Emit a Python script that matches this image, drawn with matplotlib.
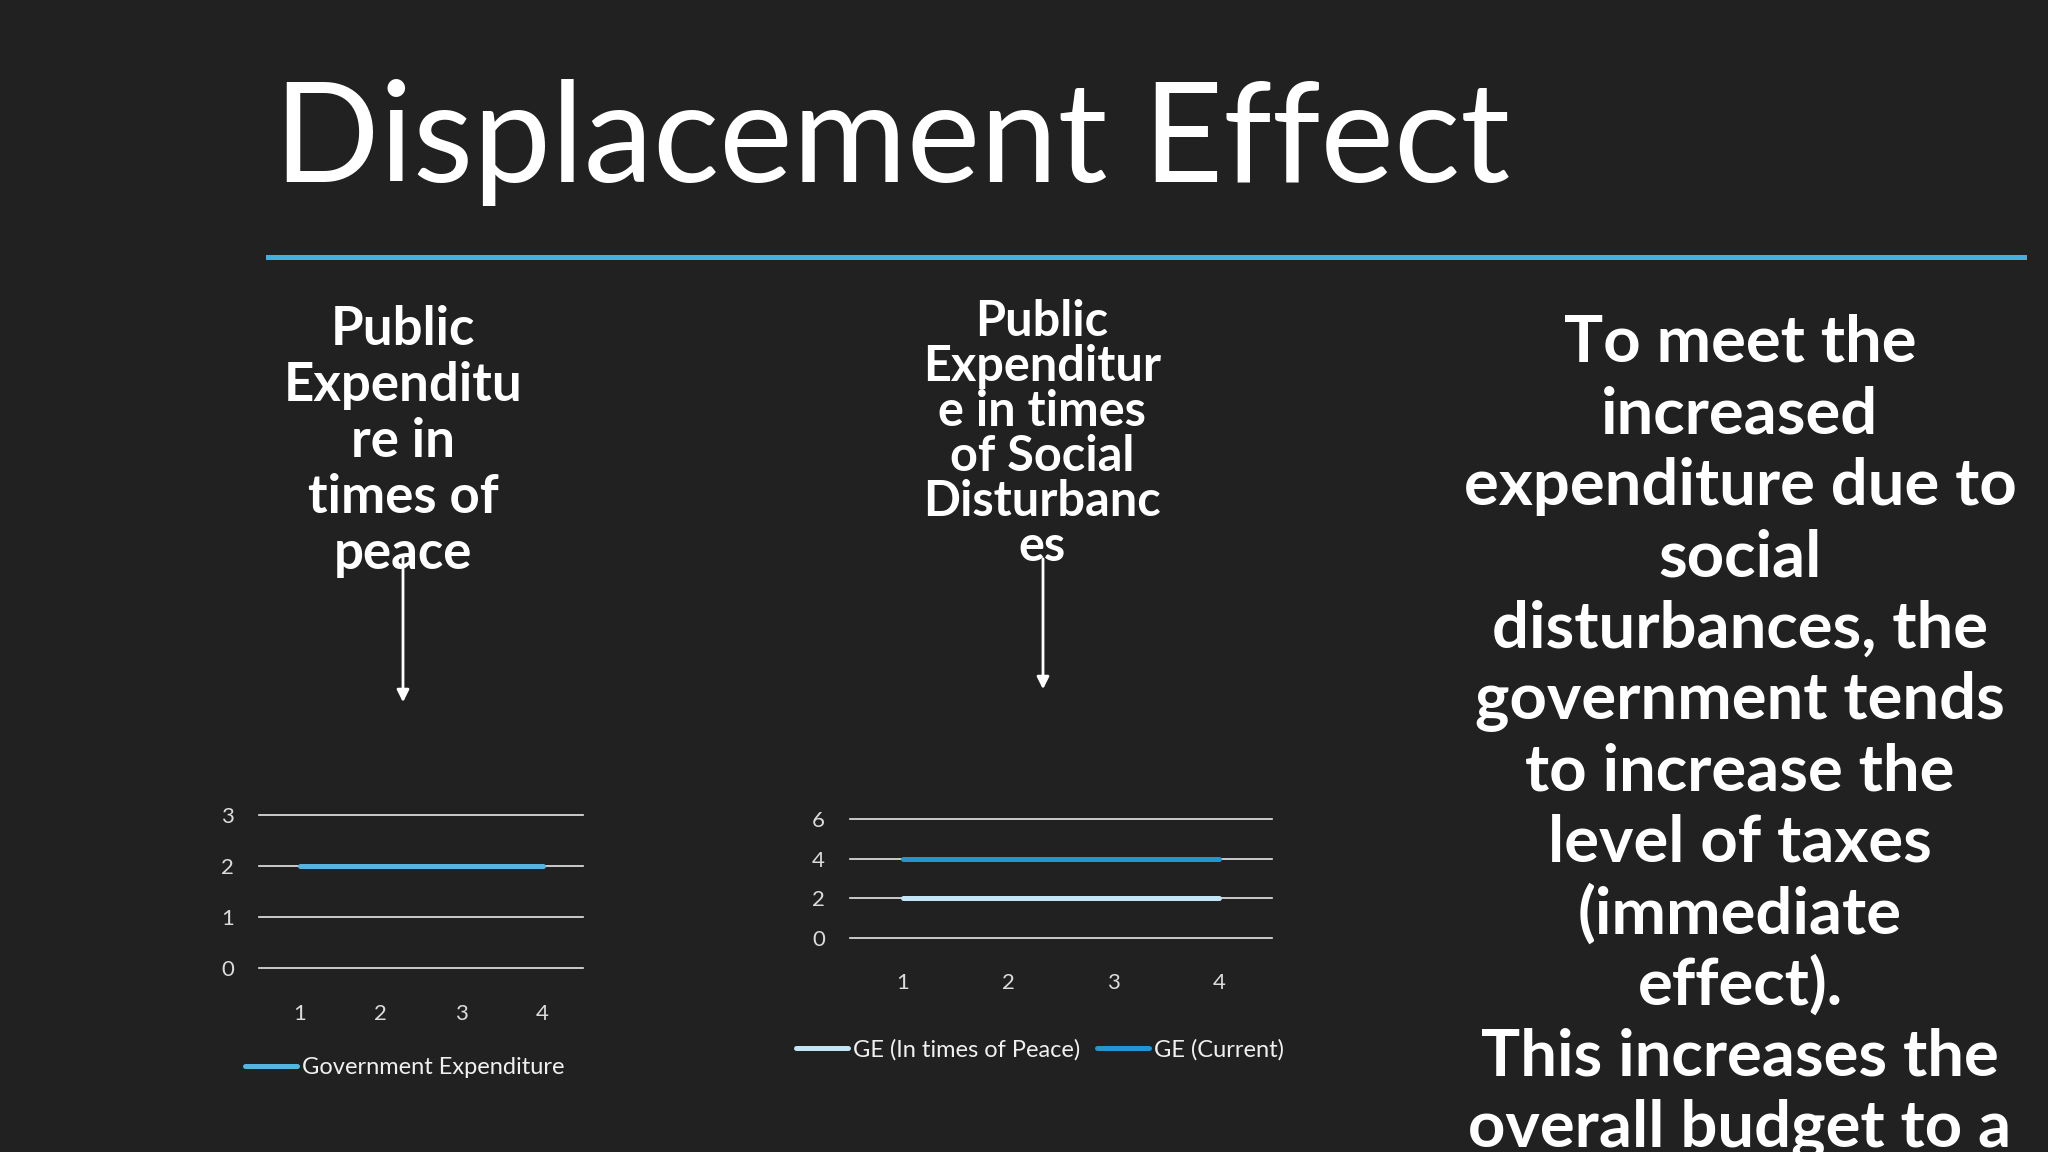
import matplotlib.pyplot as plt
from matplotlib.lines import Line2D
from matplotlib.patches import FancyArrowPatch

plt.rcParams['font.family'] = ['Lato', 'DejaVu Sans']

# chart data
categories = [1, 2, 3, 4]
peace_ge = [2, 2, 2, 2]
peace_yticks = [0, 1, 2, 3]
disturb_peace_ge = [2, 2, 2, 2]
disturb_current_ge = [4, 4, 4, 4]
disturb_yticks = [0, 2, 4, 6]

title = "Displacement Effect"
left_heading = ["Public", "Expenditu", "re in", "times of", "peace"]
mid_heading = ["Public", "Expenditur", "e in times", "of Social", "Disturbanc", "es"]
right_text = ["To meet the", "increased", "expenditure due to", "social",
              "disturbances, the", "government tends", "to increase the",
              "level of taxes", "(immediate", "effect).",
              "This increases the", "overall budget to a"]

BG = '#212121'
W, H = 2048, 1152


def fx(px):
    return px / W


def fy(py):
    return 1 - py / H


fig = plt.figure(figsize=(20.48, 11.52), dpi=100, facecolor=BG)

# title and blue rule
fig.text(fx(274), fy(182), title, fontsize=100, color='white',
         va='baseline', ha='left')
fig.add_artist(Line2D([fx(268), fx(2024)], [fy(257), fy(257)],
                      color='#45b0e0', lw=3.6))


def text_block(lines, cx, y0, pitch, size):
    for i, s in enumerate(lines):
        fig.text(fx(cx), fy(y0 + i * pitch), s, ha='center', va='baseline',
                 fontsize=size, fontweight='bold', color='white')


text_block(left_heading, 403, 345, 56, 38)
text_block(mid_heading, 1042, 336, 45, 35)
text_block(right_text, 1740, 362, 71.4, 47)

# arrows pointing at the charts
for x, y0, y1 in [(403, 553, 705), (1043, 556, 692)]:
    fig.add_artist(FancyArrowPatch((fx(x), fy(y0)), (fx(x), fy(y1)),
                                   transform=fig.transFigure, arrowstyle='-|>',
                                   mutation_scale=18, color='white', lw=2))


def line_chart(rect, series, colors, labels, yticks, xpad, leg_xy):
    ax = fig.add_axes(rect)
    ax.set_facecolor('none')
    for s in ax.spines.values():
        s.set_visible(False)
    for vals, c, lab in zip(series, colors, labels):
        ax.plot(categories, vals, color=c, lw=3.6, label=lab,
                solid_capstyle='round', zorder=3)
    ax.set_xlim(0.5, 4.5)
    ax.set_ylim(yticks[0], yticks[-1])
    ax.set_xticks(categories)
    ax.set_yticks(yticks)
    ax.grid(axis='y', color='#e8e8e8', lw=1.2)
    ax.grid(axis='x', visible=False)
    for gl in ax.get_ygridlines():
        gl.set_clip_on(False)
    ax.tick_params(axis='both', length=0, colors='#dcdcdc', labelsize=16)
    ax.tick_params(axis='y', pad=18)
    ax.tick_params(axis='x', pad=xpad)
    ax.legend(loc='center', bbox_to_anchor=(fx(leg_xy[0]), fy(leg_xy[1])),
              bbox_transform=fig.transFigure, frameon=False, ncol=len(series),
              handlelength=2.2, handletextpad=0.2, columnspacing=0.7,
              fontsize=17, labelcolor='#f0f0f0')
    return ax


line_chart([fx(259), fy(968), (583 - 259) / W, (968 - 815) / H],
           [peace_ge], ['#56b4e0'], ['Government Expenditure'],
           peace_yticks, 26, (405, 1068))

line_chart([fx(850), fy(938), (1272 - 850) / W, (938 - 819) / H],
           [disturb_peace_ge, disturb_current_ge], ['#c3e5f6', '#2396cf'],
           ['GE (In times of Peace)', 'GE (Current)'],
           disturb_yticks, 25, (1040, 1050))

fig.savefig('out.png', dpi=100, facecolor=BG)
